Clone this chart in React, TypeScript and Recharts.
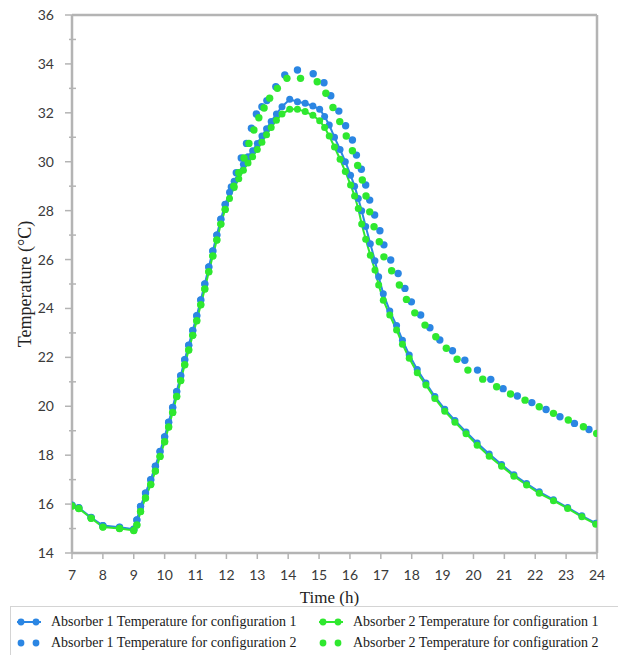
import { LineChart, Line, XAxis, YAxis, ReferenceLine } from "recharts";

// shared part of every curve: night cool-down and the morning rise (7 h – 12 h)
const earlyTime = [
  7.0, 7.22, 7.62, 8.0, 8.54, 9.0, 9.1, 9.22, 9.38, 9.55, 9.7, 9.85, 10.0, 10.13,
  10.26, 10.39, 10.52, 10.65, 10.78, 10.91, 11.04, 11.17, 11.3, 11.43, 11.56, 11.69,
  11.82, 11.96,
];
const earlyAbsorber1 = [
  15.95, 15.85, 15.45, 15.12, 15.05, 14.97, 15.35, 15.9, 16.45, 17.0, 17.55, 18.15,
  18.75, 19.35, 19.95, 20.6, 21.25, 21.9, 22.5, 23.1, 23.7, 24.35, 25.0, 25.7, 26.35,
  27.0, 27.65, 28.25,
];
const earlyAbsorber2 = [
  15.92, 15.82, 15.42, 15.06, 15.0, 14.92, 15.15, 15.7, 16.25, 16.8, 17.35, 17.95,
  18.55, 19.15, 19.75, 20.4, 21.05, 21.7, 22.3, 22.9, 23.5, 24.15, 24.8, 25.5, 26.15,
  26.8, 27.45, 28.05,
];

// configuration 1 (solid lines)
const lateTimeConf1 = [
  12.1, 12.25, 12.4, 12.55, 12.7, 12.85, 13.0, 13.15, 13.3, 13.45, 13.62, 13.8, 14.05,
  14.3, 14.55, 14.8, 15.02, 15.18, 15.33, 15.5, 15.68, 15.85, 16.02, 16.15, 16.27,
  16.38, 16.51, 16.66, 16.81, 16.93, 17.08, 17.29, 17.51, 17.7, 17.92, 18.18, 18.46,
  18.75, 19.07, 19.4, 19.76, 20.12, 20.51, 20.91, 21.31, 21.72, 22.13, 22.59, 23.05,
  23.51, 23.96,
];
const lateAbsorber1Conf1 = [
  28.75, 29.2, 29.55, 29.9, 30.2, 30.45, 30.75, 31.05, 31.35, 31.65, 31.95, 32.25,
  32.55, 32.45, 32.39, 32.28, 32.15, 31.85, 31.5, 31.0, 30.5, 30.0, 29.45, 29.0, 28.5,
  28.0, 27.35, 26.65, 25.95, 25.3, 24.6, 23.9, 23.3, 22.7, 22.1, 21.5, 20.95, 20.4,
  19.88, 19.42, 18.95, 18.5, 18.05, 17.62, 17.2, 16.84, 16.5, 16.18, 15.86, 15.52,
  15.22,
];
const lateAbsorber2Conf1 = [
  28.5, 28.95, 29.3, 29.65, 29.95, 30.2, 30.5, 30.8, 31.1, 31.4, 31.7, 31.95, 32.15,
  32.15, 32.05, 31.9, 31.68, 31.4, 31.05, 30.6, 30.1, 29.6, 29.05, 28.6, 28.09, 27.45,
  26.83, 26.18, 25.57, 24.96, 24.34, 23.73, 23.12, 22.54, 21.96, 21.37, 20.87, 20.32,
  19.8, 19.35, 18.88, 18.41, 17.96, 17.55, 17.14, 16.78, 16.44, 16.14, 15.82, 15.48,
  15.18,
];

// configuration 2 (dots only)
const lateTimeA1Conf2 = [
  12.16, 12.32, 12.48, 12.65, 12.81, 12.97, 13.15, 13.31, 13.6, 13.89, 14.3, 14.81,
  15.16, 15.38, 15.64, 15.86, 16.08, 16.21, 16.37, 16.51, 16.64, 16.8, 16.97, 17.1,
  17.32, 17.56, 17.78, 17.99, 18.29, 18.59, 18.91, 19.32, 19.72, 20.13, 20.56, 20.96,
  21.42, 21.89, 22.35, 22.8, 23.27, 23.74,
];
const lateAbsorber1Conf2 = [
  28.97, 29.55, 30.15, 30.75, 31.37, 31.95, 32.25, 32.5, 33.07, 33.55, 33.75, 33.6,
  33.23, 32.7, 32.07, 31.47, 30.89, 30.27, 29.69, 29.05, 28.43, 27.82, 27.18, 26.6,
  25.98, 25.43, 24.82, 24.27, 23.73, 23.21, 22.71, 22.27, 21.88, 21.48, 21.1, 20.72,
  20.42, 20.15, 19.87, 19.57, 19.3, 19.05,
];
const lateTimeA2Conf2 = [
  12.24, 12.4, 12.57, 12.73, 12.89, 13.05, 13.22, 13.4, 13.65, 13.96, 14.4, 14.94,
  15.22, 15.45, 15.67, 15.88, 16.08, 16.25, 16.4, 16.52, 16.64, 16.78, 16.95, 17.1,
  17.35, 17.6, 17.83, 18.1, 18.43, 18.78, 19.12, 19.47, 19.82, 20.3, 20.75, 21.2,
  21.67, 22.13, 22.59, 23.07, 23.56, 23.99,
];
const lateAbsorber2Conf2 = [
  29.0, 29.55, 30.15, 30.75, 31.3, 31.8, 32.2, 32.6, 33.0, 33.41, 33.41, 33.27, 32.8,
  32.22, 31.64, 31.05, 30.45, 29.85, 29.25, 28.6, 27.95, 27.34, 26.73, 26.11, 25.54,
  24.96, 24.37, 23.82, 23.32, 22.84, 22.37, 21.92, 21.48, 21.11, 20.8, 20.5, 20.25,
  19.98, 19.71, 19.44, 19.16, 18.89,
];

const xTicks = [7, 8, 9, 10, 11, 12, 13, 14, 15, 16, 17, 18, 19, 20, 21, 22, 23, 24];
const yTicks = [14, 15, 16, 17, 18, 19, 20, 21, 22, 23, 24, 25, 26, 27, 28, 29, 30, 31, 32, 33, 34, 35, 36];

const legendLabels = [
  "Absorber 1 Temperature for configuration 1",
  "Absorber 2 Temperature for configuration 1",
  "Absorber 1 Temperature for configuration 2",
  "Absorber 2 Temperature for configuration 2",
];

const BLUE = "#2b86e3";
const GREEN = "#2fe82f";
const AXIS = "#b4b4b4";
const TICK_TEXT = "#3a3a3a";

const toPoints = (t: number[], v: number[]) => t.map((time, i) => ({ time, temp: v[i] }));

const a1c1 = toPoints([...earlyTime, ...lateTimeConf1], [...earlyAbsorber1, ...lateAbsorber1Conf1]);
const a2c1 = toPoints([...earlyTime, ...lateTimeConf1], [...earlyAbsorber2, ...lateAbsorber2Conf1]);
const a1c2 = toPoints([...earlyTime, ...lateTimeA1Conf2], [...earlyAbsorber1, ...lateAbsorber1Conf2]);
const a2c2 = toPoints([...earlyTime, ...lateTimeA2Conf2], [...earlyAbsorber2, ...lateAbsorber2Conf2]);

// eslint-disable-next-line @typescript-eslint/no-explicit-any
function YTick({ x, y, payload }: any) {
  const major = payload.value % 2 === 0;
  return (
    <g>
      <line x1={major ? x - 7 : x - 3} x2={major ? x : x + 4} y1={y} y2={y} stroke={AXIS} strokeWidth={1.5} />
      {major && (
        <text x={x - 18} y={y} dy={5} textAnchor="end" fontSize={14} fill={TICK_TEXT} fontFamily="Lato, sans-serif">
          {payload.value}
        </text>
      )}
    </g>
  );
}

// eslint-disable-next-line @typescript-eslint/no-explicit-any
function XTick({ x, y, payload }: any) {
  return (
    <g>
      <line x1={x} x2={x} y1={y} y2={y + 6} stroke={AXIS} strokeWidth={1.5} />
      <text x={x} y={y + 27} textAnchor="middle" fontSize={14} fill={TICK_TEXT} fontFamily="Lato, sans-serif">
        {payload.value}
      </text>
    </g>
  );
}

// eslint-disable-next-line @typescript-eslint/no-explicit-any
function YTitle({ viewBox }: any) {
  const cx = viewBox.x + 8;
  const cy = viewBox.y + viewBox.height / 2;
  return (
    <text
      x={cx}
      y={cy}
      transform={`rotate(-90, ${cx}, ${cy})`}
      textAnchor="middle"
      dominantBaseline="central"
      fontSize={18}
      fontFamily="'Liberation Serif', serif"
      fill="#222"
    >
      Temperature (°C)
    </text>
  );
}

// eslint-disable-next-line @typescript-eslint/no-explicit-any
function XTitle({ viewBox }: any) {
  return (
    <text
      x={viewBox.x + viewBox.width / 2 - 5}
      y={viewBox.y + viewBox.height + 20}
      textAnchor="middle"
      fontSize={17}
      fontFamily="'Liberation Serif', serif"
      fill="#222"
    >
      Time (h)
    </text>
  );
}

function LegendMarker({ color, line }: { color: string; line: boolean }) {
  return (
    <svg width={30} height={10} style={{ display: "block" }}>
      {line && <line x1={2} x2={26} y1={5} y2={5} stroke={color} strokeWidth={2} />}
      <circle cx={6} cy={5} r={3.4} fill={color} />
      <circle cx={21} cy={5} r={3.4} fill={color} />
    </svg>
  );
}

function ChartLegend() {
  const items = [
    { label: legendLabels[0], color: BLUE, line: true, left: 14, top: 15 },
    { label: legendLabels[1], color: GREEN, line: true, left: 316, top: 15 },
    { label: legendLabels[2], color: BLUE, line: false, left: 14, top: 36 },
    { label: legendLabels[3], color: GREEN, line: false, left: 316, top: 36 },
  ];
  return (
    <div
      style={{
        position: "absolute",
        left: 10,
        top: 606,
        width: 620,
        height: 60,
        border: "1px solid #d4d4d4",
        boxSizing: "border-box",
      }}
    >
      {items.map((it) => (
        <div
          key={it.label}
          style={{
            position: "absolute",
            left: it.left - 10,
            top: it.top - 8,
            display: "flex",
            alignItems: "center",
            gap: 6,
            fontFamily: "'Liberation Serif', serif",
            fontSize: 14,
            color: "#1a1a1a",
            whiteSpace: "nowrap",
            lineHeight: "16px",
          }}
        >
          <LegendMarker color={it.color} line={it.line} />
          <span>{it.label}</span>
        </div>
      ))}
    </div>
  );
}

export default function App() {
  return (
    <div
      style={{
        position: "absolute",
        left: 0,
        top: 0,
        width: 618,
        height: 655,
        overflow: "hidden",
        background: "#fff",
      }}
    >
      <LineChart width={618} height={655} margin={{ top: 15, right: 21, bottom: 72, left: 17 }}>
        <XAxis
          type="number"
          dataKey="time"
          domain={[7, 24]}
          ticks={xTicks}
          allowDataOverflow
          height={30}
          tickSize={0}
          tickMargin={0}
          tickLine={false}
          axisLine={{ stroke: AXIS, strokeWidth: 2.5 }}
          tick={<XTick />}
          label={<XTitle />}
        />
        <YAxis
          type="number"
          dataKey="temp"
          domain={[14, 36]}
          ticks={yTicks}
          interval={0}
          allowDataOverflow
          width={55}
          tickSize={0}
          tickMargin={0}
          tickLine={false}
          axisLine={{ stroke: AXIS, strokeWidth: 2.5 }}
          tick={<YTick />}
          label={<YTitle />}
        />
        <ReferenceLine y={36} stroke={AXIS} strokeWidth={2.5} />
        <ReferenceLine x={24} stroke={AXIS} strokeWidth={2.5} />
        <Line
          data={a1c1}
          dataKey="temp"
          type="linear"
          stroke={BLUE}
          strokeWidth={2}
          dot={{ r: 3.5, fill: BLUE, stroke: "none" }}
          isAnimationActive={false}
        />
        <Line
          data={a2c1}
          dataKey="temp"
          type="linear"
          stroke={GREEN}
          strokeWidth={2}
          dot={{ r: 3.5, fill: GREEN, stroke: "none" }}
          isAnimationActive={false}
        />
        <Line
          data={a1c2}
          dataKey="temp"
          type="linear"
          stroke="none"
          dot={{ r: 3.7, fill: BLUE, stroke: "none" }}
          isAnimationActive={false}
        />
        <Line
          data={a2c2}
          dataKey="temp"
          type="linear"
          stroke="none"
          dot={{ r: 3.7, fill: GREEN, stroke: "none" }}
          isAnimationActive={false}
        />
      </LineChart>
      <ChartLegend />
    </div>
  );
}
